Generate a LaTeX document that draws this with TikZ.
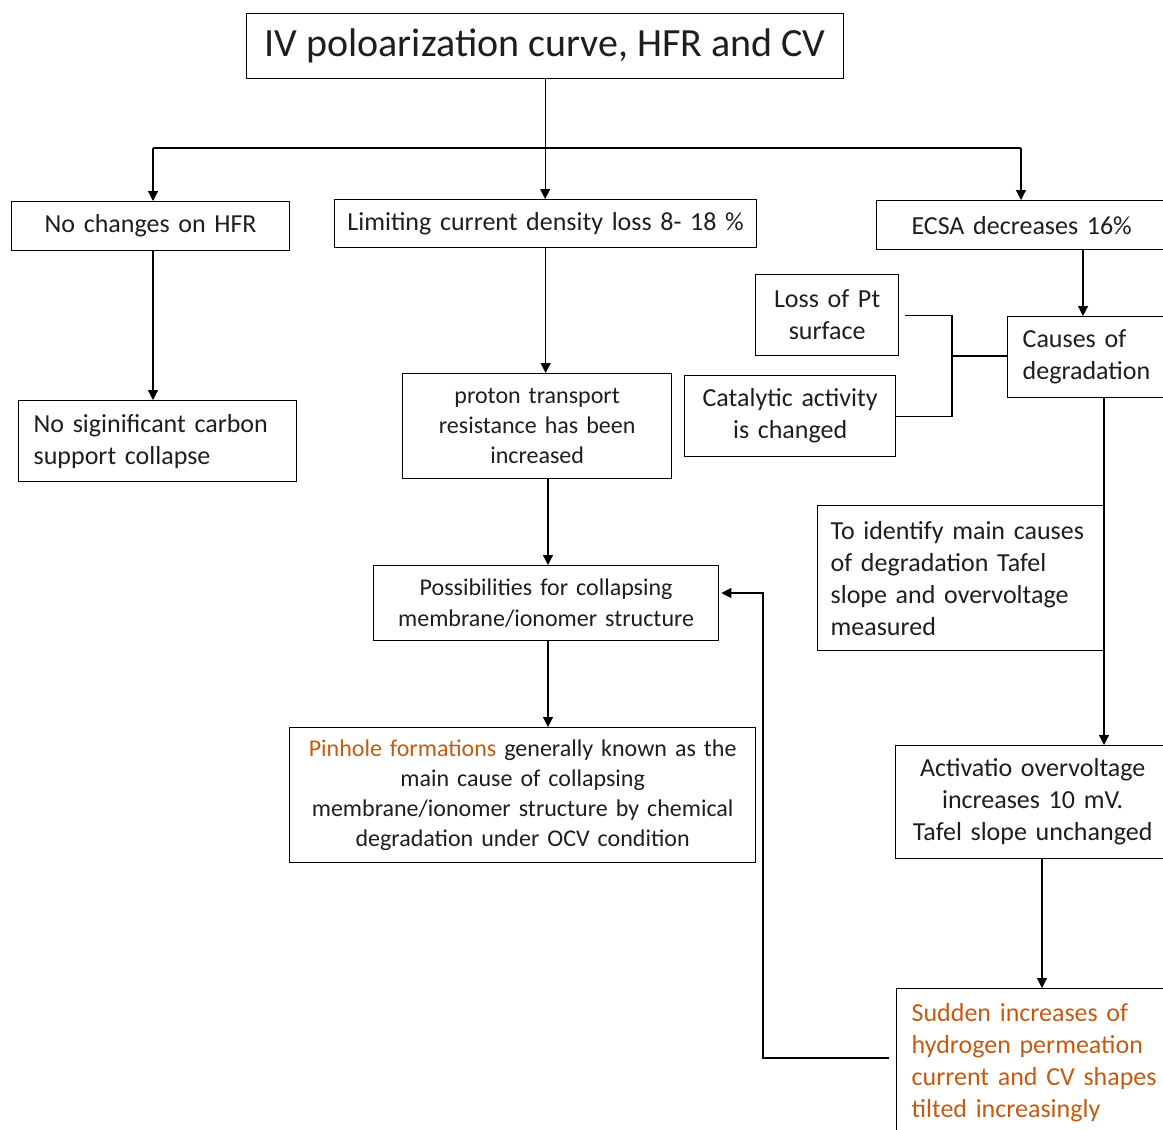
\documentclass[tikz,border=0pt]{standalone}
\usepackage{fontspec}
\setmainfont{Carlito}
\usetikzlibrary{arrows.meta}
\definecolor{orng}{RGB}{197,90,17}
\definecolor{txt}{RGB}{30,30,30}
\begin{document}
\begin{tikzpicture}[x=1pt,y=-1pt,
  box/.style={draw=black, line width=1.3pt, anchor=north west, inner xsep=15pt, inner ysep=0pt, text=txt},
  fbig/.style={font=\fontsize{26}{32}\selectfont},
  fsmall/.style={font=\fontsize{24}{30}\selectfont},
  conn/.style={draw=black, line width=1.2pt},
  arr/.style={conn, -{Triangle[length=10pt,width=10pt]}}]
\useasboundingbox (0,0) rectangle (1163,1130);
\clip (0,0) rectangle (1163,1130);
% nodes
\node[box, font=\fontsize{40}{46}\selectfont, minimum width=597, minimum height=65, inner xsep=5pt, align=center] (title) at (246,13) {IV poloarization curve, HFR and CV};
\node[box, fbig, minimum width=278, minimum height=49, text width=248, align=center] (nochg) at (11,201) {No changes on HFR};
\node[box, fbig, minimum width=422, minimum height=48, text width=414, inner xsep=4pt, align=center] (lim) at (334,199) {Limiting current density loss 8- 18 \%};
\node[box, fbig, minimum width=290, minimum height=49, text width=260, align=center] (ecsa) at (876,200) {ECSA decreases 16\%};
\node[box, fbig, minimum width=278, minimum height=81, text width=248, align=left] (nosig) at (18,400) {No siginificant carbon\\support collapse};
\node[box, fsmall, minimum width=269, minimum height=105, text width=239, align=center] (proton) at (402,373) {proton transport\\resistance has been\\increased};
\node[box, fsmall, font=\fontsize{24}{31}\selectfont, minimum width=345, minimum height=75, text width=315, align=center] (poss) at (373,565) {Possibilities for collapsing\\membrane/ionomer structure};
\node[box, fsmall, minimum width=466, minimum height=135, text width=436, align=center] (pin) at (289,727) {\textcolor{orng}{Pinhole formations} generally known as the\\main cause of collapsing\\membrane/ionomer structure by chemical\\degradation under OCV condition};
\node[box, fbig, minimum width=143, minimum height=81, text width=125, inner xsep=9pt, align=center] (loss) at (755,274) {Loss of Pt\\surface};
\node[box, fbig, minimum width=211, minimum height=81, text width=195, inner xsep=8pt, align=center] (cat) at (684,375) {Catalytic activity\\is changed};
\node[box, fbig, minimum width=180, minimum height=81, text width=150, align=left] (causes) at (1007,316) {Causes of\\degradation};
\node[box, fbig, minimum width=286, minimum height=145, text width=260, inner xsep=13pt, align=left] (ident) at (817,505) {To identify main causes\\of degradation Tafel\\slope and overvoltage\\measured};
\node[box, fbig, minimum width=274, minimum height=113, text width=254, inner xsep=10pt, align=center] (activ) at (895,745) {Activatio overvoltage\\increases 10 mV.\\Tafel slope unchanged};
\node[box, fbig, text=orng, minimum width=290, minimum height=148, text width=260, align=left] (sudden) at (896,988) {Sudden increases of\\hydrogen permeation\\current and CV shapes\\tilted increasingly};
% coordinates
\coordinate (bL) at (153,148);
\coordinate (bR) at (1021,148);
\coordinate (vx) at (548,0);
\coordinate (ex) at (1083,0);
\coordinate (cx) at (1104,0);
\coordinate (ax) at (1042,0);
\coordinate (j) at (952,356);
\coordinate (fb) at (763,1058);
\coordinate (fb2) at (763,593);
% connectors
\draw[arr] (title.south) -- (title.south |- lim.north);
\draw[conn] (bL) -- (bR);
\draw[arr] (bL) -- (bL |- nochg.north);
\draw[arr] (bR) -- (bR |- ecsa.north);
\draw[arr] (nochg.south -| bL) -- (nosig.north -| bL);
\draw[arr] (lim.south) -- (lim.south |- proton.north);
\draw[arr] (proton.south -| vx) -- (poss.north -| vx);
\draw[arr] (poss.south -| vx) -- (pin.north -| vx);
\draw[arr] (ecsa.south -| ex) -- (causes.north -| ex);
\draw[conn] ([xshift=6pt]loss.east) -| (j) |- (cat.east);
\draw[conn] (j) -- (j -| causes.west);
\draw[arr] (causes.south -| cx) -- (activ.north -| cx);
\draw[arr] (activ.south -| ax) -- (sudden.north -| ax);
\draw[arr] ([xshift=-7pt]sudden.west |- fb) -- (fb) -- (fb2) -- ([xshift=2pt]fb2 -| poss.east);
\end{tikzpicture}
\end{document}
